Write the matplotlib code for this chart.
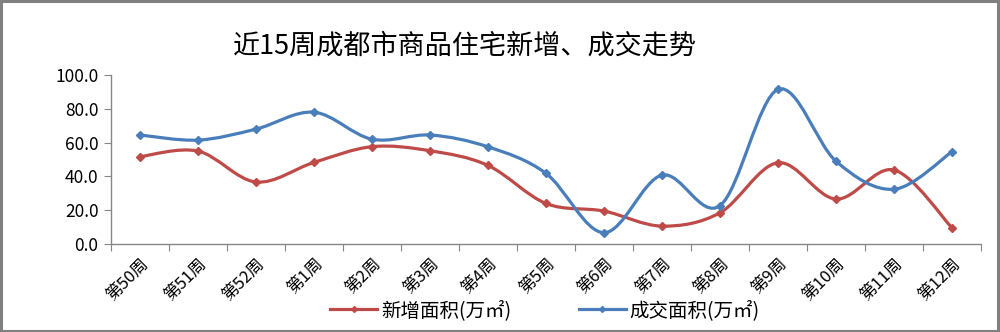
import numpy as np
import matplotlib
matplotlib.use("Agg")
import matplotlib.pyplot as plt
from matplotlib.path import Path
from matplotlib.patches import PathPatch, Rectangle
from matplotlib.lines import Line2D

plt.rcParams['font.family'] = ['Noto Sans CJK SC', 'DejaVu Sans']

# Data
weeks = ["第50周", "第51周", "第52周", "第1周", "第2周", "第3周", "第4周", "第5周",
         "第6周", "第7周", "第8周", "第9周", "第10周", "第11周", "第12周"]
new_supply = [51.7, 55.0, 36.7, 48.3, 57.6, 55.2, 46.5, 24.0, 19.5, 10.6, 18.5, 48.1, 26.6, 43.8, 9.6]
deals = [64.5, 61.5, 68.0, 78.0, 62.0, 64.5, 57.5, 41.8, 6.7, 40.8, 22.7, 91.5, 49.0, 32.4, 54.6]
yticks = [0, 20, 40, 60, 80, 100]

red = "#BE4B48"
blue = "#4A7EBB"


def smooth_path(x, y):
    # Excel-style smoothed line: cubic Bezier segments through each point
    x = np.asarray(x, float)
    y = np.asarray(y, float)
    pts = np.column_stack([x, y])
    n = len(pts)
    verts = [pts[0]]
    codes = [Path.MOVETO]
    for i in range(n - 1):
        p0 = pts[i - 1] if i > 0 else pts[i]
        p1 = pts[i]
        p2 = pts[i + 1]
        p3 = pts[i + 2] if i + 2 < n else pts[i + 1]
        c1 = p1 + (p2 - p0) / 6.0
        c2 = p2 - (p3 - p1) / 6.0
        verts += [c1, c2, p2]
        codes += [Path.CURVE4] * 3
    return Path(verts, codes)


fig = plt.figure(figsize=(10, 3.32), dpi=100)

fig.patches.append(Rectangle((0.001, 0.002), 0.997, 0.995, transform=fig.transFigure,
                             fill=False, edgecolor="#808080", linewidth=2.2, zorder=10))

ax = fig.add_axes([0.111, 0.265, 0.870, 0.509])
ax.patch.set_alpha(0)
xs = np.arange(len(weeks))

for vals, col in [(new_supply, red), (deals, blue)]:
    ax.add_patch(PathPatch(smooth_path(xs, vals), facecolor="none", edgecolor=col,
                           linewidth=2.3, capstyle="round", zorder=3))
    ax.plot(xs, vals, linestyle="none", marker="D", markersize=4, color=col, zorder=4)

ax.set_xlim(-0.5, len(weeks) - 0.5)
ax.set_ylim(0, 100)
ax.set_yticks(yticks)
ax.set_yticklabels([f"{v:.1f}" for v in yticks], fontsize=12.5)
ax.set_xticks(np.arange(-0.5, len(weeks), 1.0))
ax.set_xticklabels([])
ax.set_xticks(xs, minor=True)
ax.set_xticklabels(weeks, minor=True, rotation=45, ha="right", va="top",
                   rotation_mode="anchor", fontsize=12)
ax.tick_params(axis="x", which="minor", length=0, pad=8)
ax.tick_params(axis="x", which="major", length=5, color="#868686", direction="out")
ax.tick_params(axis="y", length=5, color="#868686", direction="out", pad=4)
for s in ["top", "right"]:
    ax.spines[s].set_visible(False)
for s in ["left", "bottom"]:
    ax.spines[s].set_color("#868686")
    ax.spines[s].set_linewidth(1.0)

fig.text(0.465, 0.862, "近15周成都市商品住宅新增、成交走势", fontsize=19.5, ha="center", va="center")

handles = [Line2D([], [], color=red, linewidth=2.3, marker="D", markersize=3),
           Line2D([], [], color=blue, linewidth=2.3, marker="D", markersize=3)]
fig.legend(handles, ["新增面积(万㎡)", "成交面积(万㎡)"], loc="center", ncol=2,
           bbox_to_anchor=(0.545, 0.065), frameon=False, fontsize=14,
           handlelength=2.4, handletextpad=0.2, columnspacing=3.5)

fig.savefig("out.png", dpi=100)
